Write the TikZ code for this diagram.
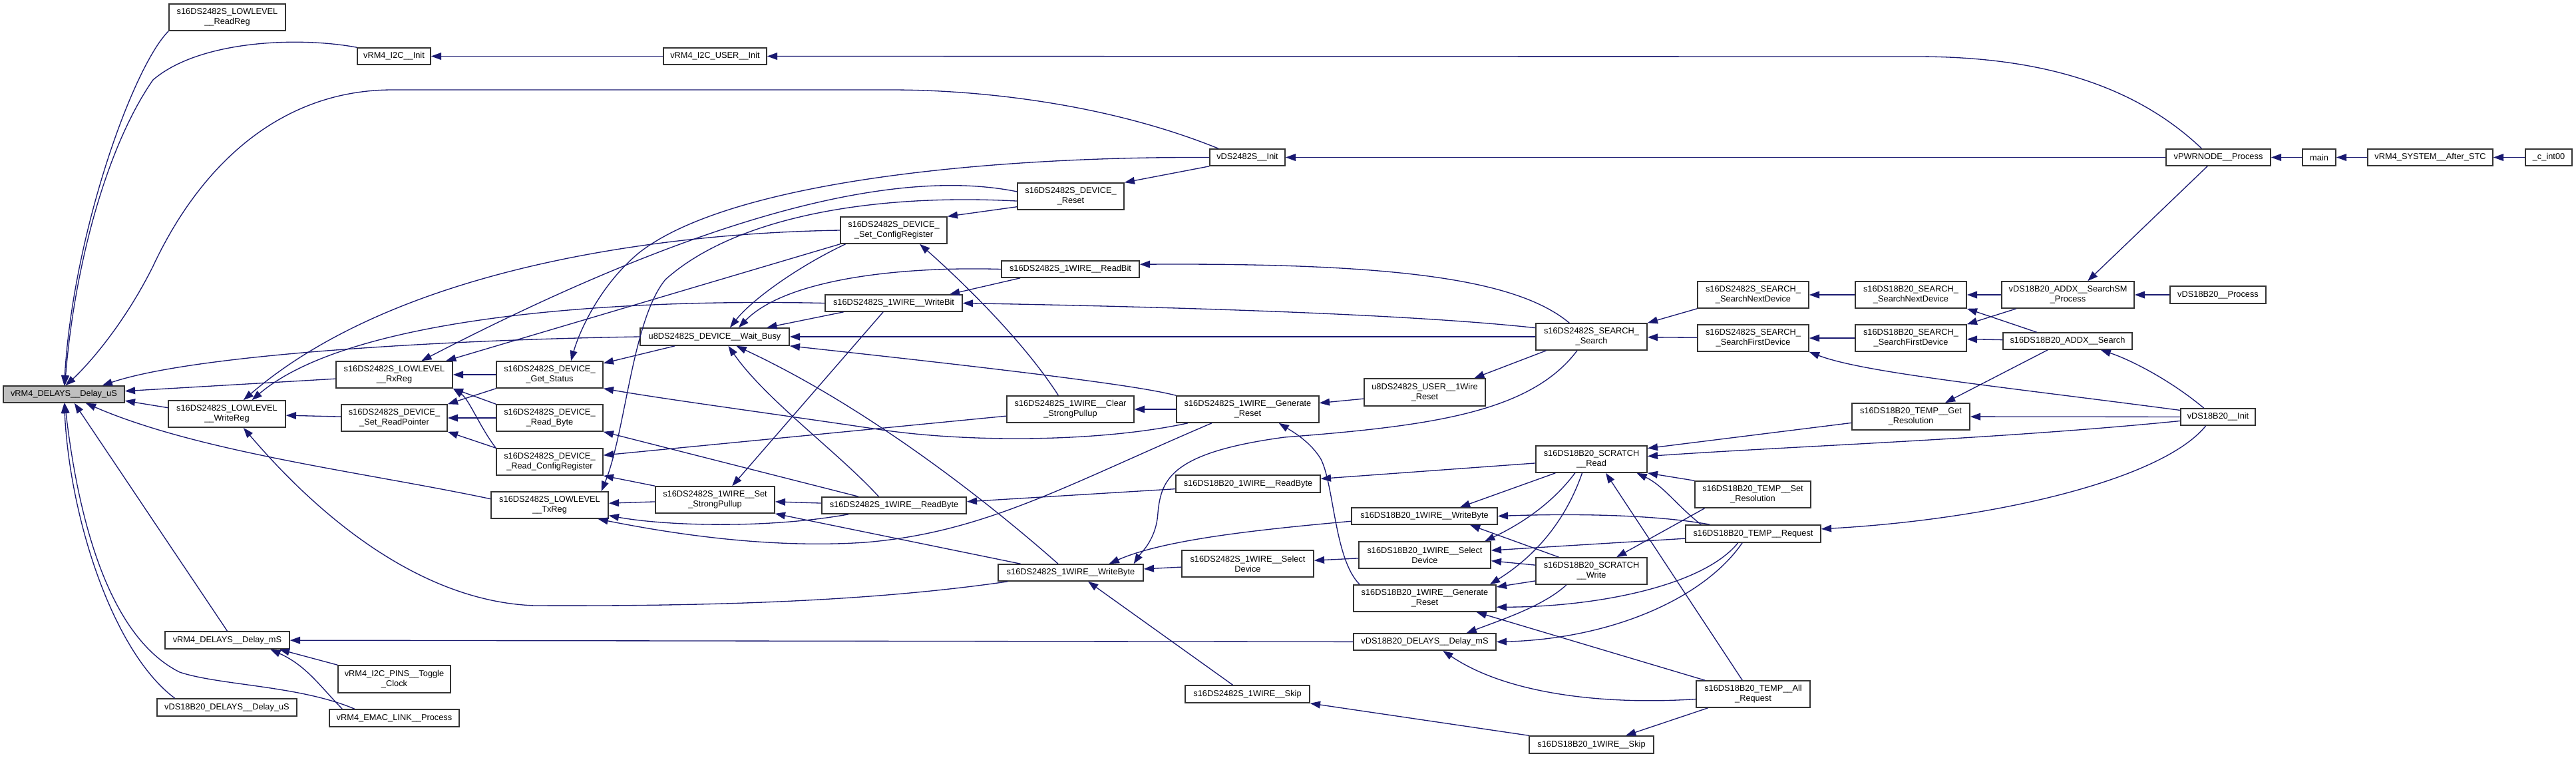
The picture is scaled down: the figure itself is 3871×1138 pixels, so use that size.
\documentclass[tikz,border=0pt]{standalone}
\usepackage{fontspec}
\setmainfont{Liberation Sans}
\usetikzlibrary{arrows.meta}
\definecolor{edgec}{RGB}{25,25,112}
\definecolor{hlgrey}{RGB}{191,191,191}
\newcommand\nd[7][]{\node[nbox,#1,minimum width={(#5-#3)*0.25pt},minimum height={(#6-#4)*0.25pt}] (#2) at ({(#3+#5)/2},{(#4+#6)/2}) {#7};}
\begin{document}
\begin{tikzpicture}[x=0.25pt,y=-0.25pt,
 nbox/.style={draw=black!80, line width=0.4pt, fill=white, inner sep=0pt, align=center, font=\fontsize{3.2}{3.75}\selectfont},
 e/.style={draw=edgec, line width=0.33pt, -{Triangle[length=3.8pt,width=2.7pt]}}]
\useasboundingbox (0,0) rectangle (3871,1138);
% nodes
\nd[fill=hlgrey]{dUS}{5}{580}{187}{605}{vRM4\_DELAYS\_\_Delay\_uS}
\nd{rdReg}{254}{6}{429}{46}{s16DS2482S\_LOWLEVEL\\\_\_ReadReg}
\nd{i2cI}{537}{72}{647}{97}{vRM4\_I2C\_\_Init}
\nd{i2cU}{997}{72}{1152}{97}{vRM4\_I2C\_USER\_\_Init}
\nd{dsInit}{1818}{224}{1931}{249}{vDS2482S\_\_Init}
\nd{devRst}{1529}{275}{1689}{315}{s16DS2482S\_DEVICE\_\\\_Reset}
\nd{setCfg}{1263}{326}{1423}{366}{s16DS2482S\_DEVICE\_\\\_Set\_ConfigRegister}
\nd{rdBit}{1505}{392}{1712}{417}{s16DS2482S\_1WIRE\_\_ReadBit}
\nd{wrBit}{1240}{443}{1446}{468}{s16DS2482S\_1WIRE\_\_WriteBit}
\nd{wBusy}{962}{493}{1186}{519}{u8DS2482S\_DEVICE\_\_Wait\_Busy}
\nd{rxReg}{505}{543}{680}{583}{s16DS2482S\_LOWLEVEL\\\_\_RxReg}
\nd{getSt}{746}{543}{906}{583}{s16DS2482S\_DEVICE\_\\\_Get\_Status}
\nd{wrReg}{253}{602}{429}{642}{s16DS2482S\_LOWLEVEL\\\_\_WriteReg}
\nd{setRP}{513}{608}{672}{648}{s16DS2482S\_DEVICE\_\\\_Set\_ReadPointer}
\nd{rdByteD}{746}{608}{906}{648}{s16DS2482S\_DEVICE\_\\\_Read\_Byte}
\nd{rdCfg}{746}{674}{906}{714}{s16DS2482S\_DEVICE\_\\\_Read\_ConfigRegister}
\nd{txReg}{738}{739}{914}{779}{s16DS2482S\_LOWLEVEL\\\_\_TxReg}
\nd{clrSP}{1513}{595}{1704}{635}{s16DS2482S\_1WIRE\_\_Clear\\\_StrongPullup}
\nd{genRst}{1768}{595}{1982}{635}{s16DS2482S\_1WIRE\_\_Generate\\\_Reset}
\nd{srch}{2308}{486}{2475}{526}{s16DS2482S\_SEARCH\_\\\_Search}
\nd{snd}{2551}{423}{2718}{463}{s16DS2482S\_SEARCH\_\\\_SearchNextDevice}
\nd{sfd}{2551}{488}{2718}{528}{s16DS2482S\_SEARCH\_\\\_SearchFirstDevice}
\nd{bsnd}{2788}{423}{2955}{463}{s16DS18B20\_SEARCH\_\\\_SearchNextDevice}
\nd{bsfd}{2788}{488}{2955}{528}{s16DS18B20\_SEARCH\_\\\_SearchFirstDevice}
\nd{smp}{3008}{423}{3207}{463}{vDS18B20\_ADDX\_\_SearchSM\\\_Process}
\nd{bproc}{3261}{430}{3405}{456}{vDS18B20\_\_Process}
\nd{addx}{3010}{500}{3204}{525}{s16DS18B20\_ADDX\_\_Search}
\nd{binit}{3277}{614}{3389}{639}{vDS18B20\_\_Init}
\nd{pwr}{3255}{224}{3412}{249}{vPWRNODE\_\_Process}
\nd{main}{3460}{224}{3510}{249}{main}
\nd{stc}{3558}{224}{3746}{249}{vRM4\_SYSTEM\_\_After\_STC}
\nd{cint}{3795}{224}{3865}{249}{\_c\_int00}
\nd{usr1w}{2050}{569}{2232}{610}{u8DS2482S\_USER\_\_1Wire\\\_Reset}
\nd{getRes}{2783}{606}{2960}{646}{s16DS18B20\_TEMP\_\_Get\\\_Resolution}
\nd{scrR}{2308}{670}{2475}{710}{s16DS18B20\_SCRATCH\\\_\_Read}
\nd{setRes}{2547}{723}{2721}{763}{s16DS18B20\_TEMP\_\_Set\\\_Resolution}
\nd{bRdByte}{1767}{714}{1984}{740}{s16DS18B20\_1WIRE\_\_ReadByte}
\nd{setSP}{985}{731}{1164}{771}{s16DS2482S\_1WIRE\_\_Set\\\_StrongPullup}
\nd{rdByte}{1235}{747}{1452}{772}{s16DS2482S\_1WIRE\_\_ReadByte}
\nd{bWrByte}{2031}{763}{2250}{788}{s16DS18B20\_1WIRE\_\_WriteByte}
\nd{wrByte}{1500}{848}{1718}{873}{s16DS2482S\_1WIRE\_\_WriteByte}
\nd{sel}{1776}{827}{1974}{867}{s16DS2482S\_1WIRE\_\_Select\\Device}
\nd{bSel}{2042}{814}{2240}{854}{s16DS18B20\_1WIRE\_\_Select\\Device}
\nd{scrW}{2308}{838}{2475}{878}{s16DS18B20\_SCRATCH\\\_\_Write}
\nd{bGen}{2034}{879}{2248}{919}{s16DS18B20\_1WIRE\_\_Generate\\\_Reset}
\nd{bDmS}{2034}{952}{2248}{977}{vDS18B20\_DELAYS\_\_Delay\_mS}
\nd{tReq}{2533}{789}{2736}{815}{s16DS18B20\_TEMP\_\_Request}
\nd{allReq}{2549}{1023}{2720}{1063}{s16DS18B20\_TEMP\_\_All\\\_Request}
\nd{bSkip}{2298}{1106}{2485}{1132}{s16DS18B20\_1WIRE\_\_Skip}
\nd{skip}{1781}{1030}{1968}{1056}{s16DS2482S\_1WIRE\_\_Skip}
\nd{dmS}{248}{949}{435}{975}{vRM4\_DELAYS\_\_Delay\_mS}
\nd{tog}{508}{1000}{677}{1041}{vRM4\_I2C\_PINS\_\_Toggle\\\_Clock}
\nd{bdUS}{236}{1050}{446}{1076}{vDS18B20\_DELAYS\_\_Delay\_uS}
\nd{emac}{495}{1066}{690}{1092}{vRM4\_EMAC\_LINK\_\_Process}
% edges (caller -> callee, head at callee)
\draw[e] (cint) -- (stc);
\draw[e] (stc) -- (main);
\draw[e] (main) -- (pwr);
\draw[e] (pwr) -- (dsInit);
\draw[e] (pwr.152) .. controls (3200,120) and (3050,85) .. (2880,85) -- (i2cU.east);
\draw[e] (pwr.219) -- (smp.35);
\draw[e] (i2cU) -- (i2cI);
\draw[e] (i2cI.north west) .. controls (450,55) and (300,60) .. (230,120) .. controls (160,220) and (112,400) .. (dUS.84);
\draw[e] (rdReg.south west) .. controls (200,100) and (110,350) .. (dUS.88);
\draw[e] (dsInit.163) .. controls (1650,150) and (1450,135) .. (1340,135) -- (590,135) .. controls (420,135) and (300,250) .. (230,400) .. controls (180,500) and (120,560) .. (dUS.80);
\draw[e] (dsInit.south west) -- (devRst.north east);
\draw[e] (devRst.191) -- (setCfg.north east);
\draw[e] (rxReg.184) -- (dUS.3);
\draw[e] (wrReg.174) -- (dUS.-6);
\draw[e] (setRP) -- (wrReg);
\draw[e] (getSt) -- (rxReg);
\draw[e] (getSt.south west) -- (setRP.north east);
\draw[e] (rdByteD) -- (setRP);
\draw[e] (rdByteD.north west) -- (rxReg.south east);
\draw[e] (rdCfg.north west) -- (setRP.south east);
\draw[e] (rdCfg.north west) .. controls (720,640) and (705,600) .. (rxReg.south east);
\draw[e] (txReg.174) .. controls (550,710) and (300,680) .. (dUS.-22);
\draw[e] (rdBit.190) -- (wrBit.9);
\draw[e] (wrBit.190) -- (wBusy.10);
\draw[e] (srch) -- (wBusy);
\draw[e] (genRst.north west) .. controls (1730,585) and (1650,570) .. (wBusy.south east);
\draw[e] (genRst) -- (clrSP);
\draw[e] (clrSP.131) .. controls (1530,500) and (1420,400) .. (setCfg.-28);
\draw[e] (srch.148) .. controls (2280,420) and (2100,395) .. (rdBit.4);
\draw[e] (srch.171) .. controls (2100,470) and (1700,460) .. (wrBit.east);
\draw[e] (usr1w.186) -- (genRst.5);
\draw[e] (srch.197) -- (usr1w.16);
\draw[e] (snd.south west) -- (srch.north east);
\draw[e] (sfd) -- (srch);
\draw[e] (bsnd) -- (snd);
\draw[e] (bsfd) -- (sfd);
\draw[e] (smp) -- (bsnd);
\draw[e] (smp.195) -- (bsfd.north east);
\draw[e] (addx.164) -- (bsnd.south east);
\draw[e] (addx) -- (bsfd);
\draw[e] (bproc) -- (smp);
\draw[e] (binit.148) .. controls (3260,570) and (3200,540) .. (addx.-15);
\draw[e] (addx.204) -- (getRes.22);
\draw[e] (binit) -- (getRes);
\draw[e] (binit.170) .. controls (3000,580) and (2800,560) .. (sfd.south east);
\draw[e] (binit.186) .. controls (3000,660) and (2700,670) .. (scrR.3);
\draw[e] (getRes.186) -- (scrR.11);
\draw[e] (binit.216) .. controls (3250,720) and (3000,780) .. (tReq.4);
\draw[e] (scrR.184) -- (bRdByte.4);
\draw[e] (bRdByte.184) -- (rdByte.3);
\draw[e] (setRes.north west) -- (scrR.south east);
\draw[e] (scrR.201) -- (bWrByte.14);
\draw[e] (scrR.220) .. controls (2330,760) and (2280,790) .. (bSel.13);
\draw[e] (scrR.236) .. controls (2350,790) and (2300,840) .. (bGen.12);
\draw[e] (allReq.128) -- (scrR.-44);
\draw[e] (tReq.170) .. controls (2520,760) and (2500,730) .. (scrR.-17);
\draw[e] (tReq.168) .. controls (2480,772) and (2350,772) .. (bWrByte.east);
\draw[e] (tReq.184) -- (bSel.4);
\draw[e] (tReq.211) .. controls (2560,880) and (2400,912) .. (bGen.-7);
\draw[e] (tReq.220) .. controls (2560,900) and (2420,960) .. (bDmS.east);
\draw[e] (setRes.196) -- (scrW.29);
\draw[e] (scrW.157) -- (bWrByte.-11);
\draw[e] (scrW.174) -- (bSel.-5);
\draw[e] (scrW.190) -- (bGen.9);
\draw[e] (scrW.209) .. controls (2320,910) and (2260,930) .. (bDmS.12);
\draw[e] (allReq.164) -- (bGen.-15);
\draw[e] (allReq.185) .. controls (2400,1060) and (2260,1040) .. (bDmS.-26);
\draw[e] (allReq.197) -- (bSkip.15);
\draw[e] (bSkip.north west) -- (skip.south east);
\draw[e] (bSel) -- (sel);
\draw[e] (sel) -- (wrByte);
\draw[e] (skip.148) -- (wrByte.-27);
\draw[e] (bWrByte.184) .. controls (1900,795) and (1750,810) .. (wrByte.13);
\draw[e] (srch.224) .. controls (2300,620) and (2150,640) .. (1930,657) .. controls (1760,680) and (1745,720) .. (1740,770) .. controls (1738,810) and (1715,830) .. (wrByte.8);
\draw[e] (wrByte.170) -- (setSP.south east);
\draw[e] (wrByte.145) .. controls (1480,750) and (1300,610) .. (wBusy.-23);
\draw[e] (wrByte.188) .. controls (1300,905) and (1050,911) .. (804,910) .. controls (650,905) and (500,800) .. (wrReg.-40);
\draw[e] (rdByte.191) .. controls (1150,795) and (1000,790) .. (txReg.-10);
\draw[e] (genRst.201) .. controls (1600,730) and (1480,800) .. (1300,815) .. controls (1150,825) and (1000,800) .. (txReg.-16);
\draw[e] (setSP) -- (txReg);
\draw[e] (clrSP.186) -- (rdCfg.7);
\draw[e] (setSP.north west) -- (rdCfg.south east);
\draw[e] (rdByte.166) -- (rdByteD.south east);
\draw[e] (wBusy.193) -- (getSt.12);
\draw[e] (genRst.193) .. controls (1650,665) and (1450,665) .. (1319,645) .. controls (1150,620) and (1000,600) .. (getSt.south east);
\draw[e] (bGen.168) .. controls (2005,840) and (2005,730) .. (1985,690) .. controls (1970,665) and (1945,650) .. (genRst.-24);
\draw[e] (rdByte.150) .. controls (1260,680) and (1150,600) .. (wBusy.-34);
\draw[e] (rdByte) -- (setSP);
\draw[e] (wrBit.220) -- (setSP.39);
\draw[e] (devRst.185) .. controls (1300,290) and (1100,330) .. (1000,420) .. controls (950,480) and (940,650) .. (txReg.15);
\draw[e] (dsInit.west) .. controls (1500,235) and (1100,270) .. (960,380) .. controls (900,430) and (870,500) .. (getSt.33);
\draw[e] (devRst.175) .. controls (1400,262) and (1150,275) .. (rxReg.27);
\draw[e] (setCfg.west) .. controls (1000,350) and (600,400) .. (wrReg.40);
\draw[e] (wrBit.west) .. controls (900,448) and (520,480) .. (wrReg.29);
\draw[e] (setCfg.south west) -- (rxReg.15);
\draw[e] (setCfg.196) .. controls (1200,400) and (1130,450) .. (wBusy.31);
\draw[e] (rdBit.west) .. controls (1350,400) and (1180,420) .. (wBusy.21);
\draw[e] (wBusy.west) .. controls (700,510) and (300,530) .. (dUS.13);
\draw[e] (dmS.north) -- (dUS.-40);
\draw[e] (bdUS.170) .. controls (170,980) and (105,780) .. (dUS.-88);
\draw[e] (emac.167) .. controls (450,1030) and (330,1030) .. (270,1010) .. controls (170,960) and (120,800) .. (dUS.-84);
\draw[e] (bDmS) -- (dmS);
\draw[e] (tog.north west) -- (dmS.-10);
\draw[e] (emac.170) .. controls (480,1030) and (460,1000) .. (dmS.-12);
\end{tikzpicture}
\end{document}
